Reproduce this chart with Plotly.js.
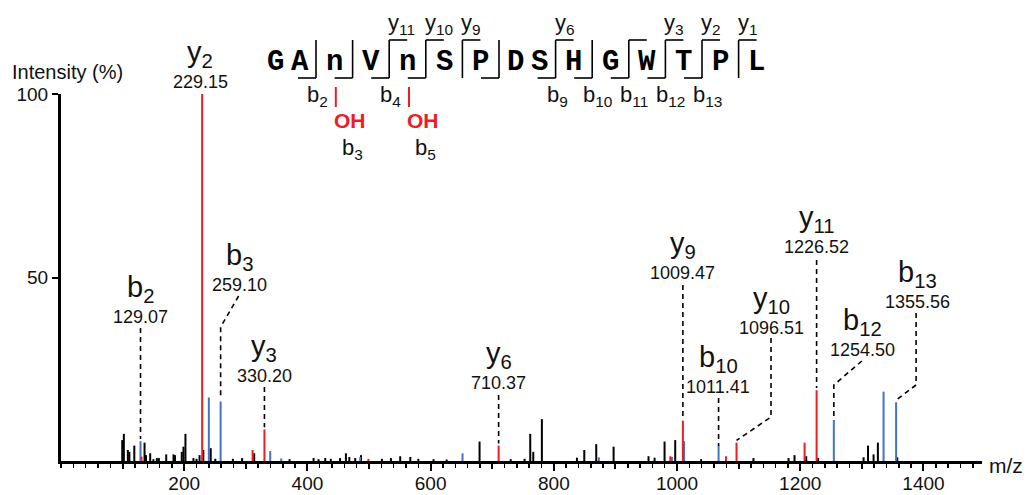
<!DOCTYPE html>
<html>
<head>
<meta charset="utf-8">
<script src="https://cdn.plot.ly/plotly-3.0.1.min.js"></script>
<style>
  html, body { margin: 0; padding: 0; background: #ffffff; }
  #chart { width: 1032px; height: 495px; }
</style>
</head>
<body>
<div id="chart"></div>
<script>
// ---------- spectrum peaks (m/z, relative intensity %) ----------
// peaks without a fragment assignment (black)
const otherMz = [99.4, 102, 108.5, 111, 119, 135.6, 138, 144.8, 150, 155.6, 158.9, 170.8, 182.6, 185,
  196, 198.8, 202, 215, 220, 224.9, 231, 243, 250.5, 279, 294, 313.6, 371, 410, 418, 428.9, 438, 453,
  462.5, 468, 477.6, 487, 521, 535.5, 550.6, 567, 580, 604.7, 626, 679.4, 730, 752.5, 761.7, 766.6,
  780.6, 837.5, 849.4, 868.8, 897, 953.7, 963.5, 979.7, 997, 1039, 1124, 1181, 1190.7, 1209.7, 1229,
  1302.8, 1310, 1319, 1326, 1357.5];
const otherIntensity = [5.7, 7.4, 3.0, 2.5, 4.2, 5.0, 1.6, 2.1, 0.5, 0.8, 0.8, 1.8, 1.8, 1.6,
  2.5, 3.9, 7.4, 0.8, 0.6, 1.6, 3.0, 3.5, 0.6, 0.6, 0.8, 2.1, 0.5, 0.8, 0.5, 0.8, 0.6, 0.8,
  2.1, 1.1, 0.8, 1.6, 0.6, 0.8, 1.3, 1.1, 0.6, 0.5, 0.4, 5.3, 0.5, 0.6, 7.4, 2.5,
  11.4, 0.9, 3.0, 4.6, 3.9, 1.3, 0.9, 5.3, 5.7, 0.5, 0.8, 0.8, 1.6, 1.3, 0.8,
  1.0, 4.2, 1.8, 5.0, 1.0];

// b-type matches that carry no label (blue)
const bExtraMz = [240, 339.6, 357.5, 485.7, 651.8, 873, 991.7, 1067.4, 1335.2];
const bExtraIntensity = [17.3, 2.7, 0.7, 1.1, 2.1, 1.0, 1.1, 4.2, 18.9];

// y-type matches that carry no label (red)
const yExtraMz = [130.7, 311, 499, 989, 1079.4, 1207];
const yExtraIntensity = [1.2, 3.0, 0.6, 1.3, 1.3, 5.0];

// labelled fragment ions
const ionNames = ['b2', 'y2', 'b3', 'y3', 'y6', 'y9', 'b10', 'y10', 'y11', 'b12', 'b13'];
const ionMz = [129.07, 229.15, 259.10, 330.20, 710.37, 1009.47, 1011.41, 1096.51, 1226.52, 1254.50, 1355.56];
const ionIntensity = [5.4, 100, 16.2, 8.6, 4.2, 11.0, 5.4, 5.0, 19.3, 11.2, 16.0];

// axis ticks
const xMajorTicks = [200, 400, 600, 800, 1000, 1200, 1400];
const xMidTicks = [100, 300, 500, 700, 900, 1100, 1300];
const yTicks = [50, 100];

// ---------- peptide sequence ----------
const residueGroups = ['GA', 'n', 'V', 'n', 'S', 'P', 'DS', 'H', 'G', 'W', 'T', 'P', 'L'];
const bCuts = [2, 3, 4, 5, 7, 9, 10, 11, 12, 13];
const yCuts = [11, 10, 9, 6, 4, 3, 2, 1];
const bLabelled = [2, 4, 9, 10, 11, 12, 13];
const bLabelledBelowOH = [3, 5];
const yLabelled = [11, 10, 9, 6, 3, 2, 1];
const hydroxylResidues = [3, 5];
const modText = 'OH';

// ---------- page geometry ----------
const W = 1032, H = 495;
const M = { l: 61, r: 50, t: 94, b: 34 };
const plotW = W - M.l - M.r, plotH = H - M.t - M.b;
const X_RANGE = [0, 1495], Y_RANGE = [0, 100];

const RED = '#ee1c25', BLUE = '#4472c4', INK = '#111111';
const SANS = 'Liberation Sans, Arial, sans-serif';
const MONO = 'Liberation Mono, Courier New, monospace';

// pixel helpers for decorations (labels, leaders, sequence diagram)
const xAt = px => X_RANGE[0] + (px - M.l) / plotW * (X_RANGE[1] - X_RANGE[0]);
const yAt = py => Y_RANGE[0] + (M.t + plotH - py) / plotH * (Y_RANGE[1] - Y_RANGE[0]);
const pxOf = mz => M.l + (mz - X_RANGE[0]) / (X_RANGE[1] - X_RANGE[0]) * plotW;
const paperX = px => (px - M.l) / plotW;
const paperY = py => (M.t + plotH - py) / plotH;

function stems(mz, inten) {
  const x = [], y = [];
  mz.forEach((m, i) => { x.push(m, m, null); y.push(0, inten[i], null); });
  return { x, y };
}
function stemTrace(mz, inten, color) {
  const s = stems(mz, inten);
  return { type: 'scatter', mode: 'lines', x: s.x, y: s.y, cliponaxis: false,
           line: { color, width: 2 }, hoverinfo: 'skip', showlegend: false };
}

const bIons = ionNames.map((n, i) => n[0] === 'b' ? i : -1).filter(i => i >= 0);
const yIons = ionNames.map((n, i) => n[0] === 'y' ? i : -1).filter(i => i >= 0);

const traces = [
  stemTrace(otherMz, otherIntensity, '#000000'),
  stemTrace(bExtraMz, bExtraIntensity, BLUE),
  stemTrace(bIons.map(i => ionMz[i]), bIons.map(i => ionIntensity[i]), BLUE),
  stemTrace(yExtraMz, yExtraIntensity, RED),
  stemTrace(yIons.map(i => ionMz[i]), yIons.map(i => ionIntensity[i]), RED),
  // carrier for the secondary tick axis (100, 300, ...)
  { type: 'scatter', mode: 'markers', x: [xMidTicks[0]], y: [0], xaxis: 'x2', yaxis: 'y',
    marker: { opacity: 0, size: 1 }, hoverinfo: 'skip', showlegend: false }
];

// label placement: dx = horizontal shift (px) of the label from its peak,
// numY = pixel row of the m/z text, lead = leader waypoints [dx, py]; tip = end on the peak top
const labelPlacement = {
  b2:  { dx: 0,  numY: 317, lead: [[0, 328]], tip: true },
  y2:  { dx: -2, numY: 82,  lead: [], tip: false },
  b3:  { dx: 19, numY: 285, lead: [[18, 296], [0, 327]], tip: true },
  y3:  { dx: 0,  numY: 376, lead: [[0, 387]], tip: true },
  y6:  { dx: 0,  numY: 383, lead: [[0, 395]], tip: true },
  y9:  { dx: 0,  numY: 273, lead: [[0, 285]], tip: true },
  b10: { dx: 34, numY: 387, lead: [[34.5, 398], [34.5, 446]], tip: false },
  y10: { dx: 35, numY: 328, lead: [[34.5, 338], [34.5, 417]], tip: true },
  y11: { dx: 0,  numY: 247, lead: [[0, 260]], tip: true },
  b12: { dx: 29, numY: 350, lead: [[28, 361], [0, 385]], tip: true },
  b13: { dx: 21, numY: 302, lead: [[20, 313], [20, 385]], tip: true }
};

const annotations = [];
const shapes = [];
const paperText = (px, py, text, font, xanchor) => annotations.push({
  x: paperX(px), y: paperY(py), xref: 'paper', yref: 'paper', showarrow: false,
  xanchor: xanchor || 'center', yanchor: 'middle', text, font
});

ionNames.forEach((name, i) => {
  const p = labelPlacement[name];
  const px = pxOf(ionMz[i]);
  paperText(px + p.dx, p.numY - 28, name[0] + '<sub>' + name.slice(1) + '</sub>',
            { family: SANS, size: 29, color: INK });
  paperText(px + p.dx, p.numY, ionMz[i].toFixed(2), { family: SANS, size: 18, color: INK });
  const pts = p.lead.map(([dx, py]) => [xAt(px + dx), yAt(py)]);
  if (p.tip) pts.push([ionMz[i], ionIntensity[i] + 0.6]);
  if (pts.length > 1) {
    shapes.push({
      type: 'path', xref: 'x', yref: 'y',
      path: 'M' + pts.map(q => q[0] + ',' + q[1]).join(' L'),
      line: { color: '#000000', width: 1.6, dash: '5px,4px' }
    });
  }
});

// ---------- sequence diagram ----------
const SEQ_FIRST_SEP = 316, CHAR_W = 20, CELL_PAD = 16.6, CHAR_STEP = 24;
const SEQ_MID = 63, SEQ_TOP = 40, SEQ_BOT = 78, HOOK = 18;
const totalResidues = residueGroups.join('').length;
const FRAG_FONT = { family: SANS, size: 22, color: INK };
const fragText = (letter, n) => letter + '<sub>' + n + '</sub>';

const segment = (x0, y0, x1, y1, color, w) => shapes.push({
  type: 'line', xref: 'paper', yref: 'paper',
  x0: paperX(x0), y0: paperY(y0), x1: paperX(x1), y1: paperY(y1),
  line: { color, width: w }
});

let right = SEQ_FIRST_SEP - (CELL_PAD + CHAR_W * residueGroups[0].length);
let count = 0;
const residueCentre = {};
residueGroups.forEach((g, gi) => {
  const left = right;
  right = left + CELL_PAD + CHAR_W * g.length;
  const centre = (left + right) / 2;
  [...g].forEach((ch, k) => {
    count += 1;
    const cx = centre + (k - (g.length - 1) / 2) * CHAR_STEP;
    residueCentre[count] = cx;
    paperText(cx, SEQ_MID, '<b>' + ch + '</b>', { family: MONO, size: 29, color: '#000000' });
  });
  if (gi === residueGroups.length - 1) return;
  const sx = right;
  segment(sx, SEQ_TOP, sx, SEQ_BOT, '#000000', 1.6);
  const yNum = totalResidues - count;
  if (bCuts.includes(count)) segment(sx - HOOK, SEQ_BOT, sx, SEQ_BOT, '#000000', 1.6);
  if (yCuts.includes(yNum)) segment(sx, SEQ_TOP, sx + HOOK, SEQ_TOP, '#000000', 1.6);
  if (bLabelled.includes(count)) paperText(sx - 11, 96, fragText('b', count), FRAG_FONT, 'left');
  if (yLabelled.includes(yNum)) paperText(sx - 3, 24, fragText('y', yNum), FRAG_FONT, 'left');
});

// hydroxylated residues: red bond, OH and the b ion that follows
hydroxylResidues.forEach(r => {
  const lx = residueCentre[r] + 1.5;
  segment(lx, 87, lx, 107, RED, 2);
  paperText(lx - 4, 120, '<b>' + modText + '</b>', { family: SANS, size: 21, color: RED }, 'left');
});
bLabelledBelowOH.forEach(n => {
  const lx = residueCentre[n] + 1.5;
  paperText(lx + 4, 149, fragText('b', n), FRAG_FONT, 'left');
});

// axis captions
paperText(67, 72, 'Intensity (%)', { family: SANS, size: 20, color: INK });
paperText(1006, 465, 'm/z', { family: SANS, size: 21, color: INK });

const layout = {
  width: W, height: H,
  margin: M,
  paper_bgcolor: '#ffffff', plot_bgcolor: '#ffffff',
  showlegend: false,
  xaxis: {
    range: X_RANGE, showgrid: false, zeroline: false,
    showline: true, linecolor: '#000000', linewidth: 3,
    tickmode: 'array', tickvals: xMajorTicks,
    ticks: 'outside', ticklen: 7, tickwidth: 2, tickcolor: '#000000',
    ticklabelstandoff: -4,
    minor: { tickmode: 'linear', tick0: 0, dtick: 20, ticks: 'outside', ticklen: 4, tickwidth: 1.5, tickcolor: '#000000', showgrid: false },
    tickfont: { family: SANS, size: 19, color: INK }
  },
  xaxis2: {
    overlaying: 'x', anchor: 'y', side: 'bottom', matches: 'x',
    range: X_RANGE, showgrid: false, zeroline: false, showline: false,
    tickmode: 'array', tickvals: xMidTicks, showticklabels: false,
    ticks: 'outside', ticklen: 7, tickwidth: 2, tickcolor: '#000000'
  },
  yaxis: {
    range: Y_RANGE, showgrid: false, zeroline: false,
    showline: true, linecolor: '#000000', linewidth: 3,
    tickmode: 'array', tickvals: yTicks,
    ticks: 'outside', ticklen: 6, tickwidth: 2, tickcolor: '#000000',
    tickfont: { family: SANS, size: 19, color: INK }
  },
  annotations, shapes
};

Plotly.newPlot('chart', traces, layout, { staticPlot: true, displayModeBar: false });
</script>
</body>
</html>
